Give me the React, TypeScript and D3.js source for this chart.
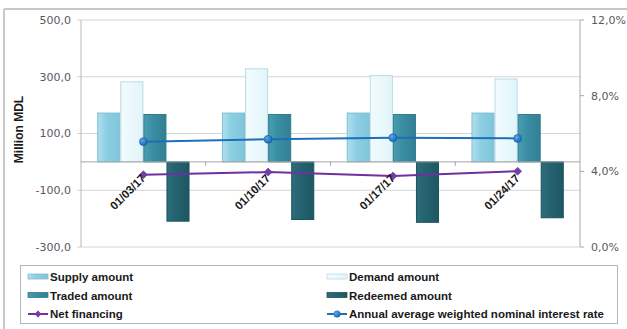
import React from "react";
import * as d3 from "d3";

const categories = ["01/03/17", "01/10/17", "01/17/17", "01/24/17"];
const supplyAmount = [172, 172, 172, 172];
const demandAmount = [282, 328, 304, 292];
const tradedAmount = [167, 167, 167, 167];
const redeemedAmount = [-209, -203, -213, -197];
const netFinancing = [-45, -36, -50, -33];
const interestRate = [5.57, 5.69, 5.78, 5.74];
const leftTicks = [500, 300, 100, -100, -300];
const rightTicks = [0, 4, 8, 12];

const seriesNames = ["Supply amount", "Demand amount", "Traded amount", "Redeemed amount"];
const barSeries = [supplyAmount, demandAmount, tradedAmount, redeemedAmount];
const barFill = ["url(#gSupply)", "url(#gDemand)", "url(#gTraded)", "url(#gRedeemed)"];
const barStroke = ["#7fbfd2", "#b9dbe4", "#2f7d91", "#1c5360"];

const W = 627, H = 329;
const L = 81, R = 580, T = 20, B = 247;

export default function App() {
  const x = d3.scaleBand<string>().domain(categories).range([L, R]).padding(0);
  const bw = x.bandwidth();
  const xi = d3.scaleBand<string>().domain(seriesNames).range([bw * 0.13, bw * 0.87]).padding(0);
  const y = d3.scaleLinear().domain([-300, 500]).range([B, T]);
  const y2 = d3.scaleLinear().domain([0, 12]).range([B, T]);
  const cx = (c: string) => (x(c) as number) + bw / 2;

  const rateLine = d3.line<number>().x((_, i) => cx(categories[i])).y((d) => y2(d));
  const netLine = d3.line<number>().x((_, i) => cx(categories[i])).y((d) => y(d));
  const fmt = (v: number) => v.toFixed(1).replace(".", ",");
  const axisFont = "DejaVu Sans, Verdana, sans-serif";
  const boldFont = "Liberation Sans, Arial, sans-serif";

  const legendItems = [
    { name: "Supply amount", kind: "bar", i: 0, col: 0, row: 0 },
    { name: "Demand amount", kind: "bar", i: 1, col: 1, row: 0 },
    { name: "Traded amount", kind: "bar", i: 2, col: 0, row: 1 },
    { name: "Redeemed amount", kind: "bar", i: 3, col: 1, row: 1 },
    { name: "Net financing", kind: "net", i: 0, col: 0, row: 2 },
    { name: "Annual average weighted nominal interest rate", kind: "rate", i: 0, col: 1, row: 2 },
  ];
  const colX = [28, 327];
  const rowY = [277, 295.5, 314];

  const diamond = (px: number, py: number, s: number) =>
    `M${px},${py - s}L${px + s},${py}L${px},${py + s}L${px - s},${py}Z`;

  return (
    <svg width={W} height={H} style={{ position: "absolute", left: 0, top: 0, background: "#fff" }}>
      <defs>
        <linearGradient id="gSupply" x1="0" x2="1" y1="0" y2="0">
          <stop offset="0" stopColor="#b0e0ee" />
          <stop offset="0.4" stopColor="#8ccfe3" />
          <stop offset="1" stopColor="#80c5da" />
        </linearGradient>
        <linearGradient id="gDemand" x1="0" x2="1" y1="0" y2="0">
          <stop offset="0" stopColor="#f2fbfd" />
          <stop offset="1" stopColor="#e2f5fa" />
        </linearGradient>
        <linearGradient id="gTraded" x1="0" x2="1" y1="0" y2="0">
          <stop offset="0" stopColor="#4a9db1" />
          <stop offset="0.4" stopColor="#3a8ea3" />
          <stop offset="1" stopColor="#337f93" />
        </linearGradient>
        <linearGradient id="gRedeemed" x1="0" x2="1" y1="0" y2="0">
          <stop offset="0" stopColor="#2d6d7b" />
          <stop offset="0.4" stopColor="#25626f" />
          <stop offset="1" stopColor="#1f5764" />
        </linearGradient>
        <radialGradient id="gDot" cx="0.35" cy="0.35" r="0.7">
          <stop offset="0" stopColor="#5aa7e6" />
          <stop offset="1" stopColor="#1565b0" />
        </radialGradient>
      </defs>

      {/* outer frame */}
      <line x1={4} y1={9} x2={W} y2={9} stroke="#c8c8c8" strokeWidth={2} />
      <line x1={4} y1={9} x2={4} y2={H} stroke="#c8c8c8" strokeWidth={2} />

      {/* gridlines */}
      {leftTicks.map((t) => (
        <line key={"g" + t} x1={L - 4} x2={R} y1={y(t)} y2={y(t)} stroke="#d4d4d4" strokeWidth={1} />
      ))}
      {rightTicks.map((t) => (
        <line key={"rt" + t} x1={R} x2={R + 4} y1={y2(t)} y2={y2(t)} stroke="#a8a8a8" strokeWidth={1} />
      ))}
      <line x1={L} x2={L} y1={T} y2={B} stroke="#b8b8b8" />
      <line x1={R} x2={R} y1={T} y2={B} stroke="#a8a8a8" />

      {/* bars */}
      {categories.map((c, ci) =>
        barSeries.map((s, si) => {
          const v = s[ci];
          const x0 = (x(c) as number) + (xi(seriesNames[si]) as number);
          const y0 = Math.min(y(v), y(0));
          const h = Math.abs(y(v) - y(0));
          return (
            <rect key={c + si} x={x0 + 0.5} y={y0} width={xi.bandwidth() - 1} height={h}
              fill={barFill[si]} stroke={barStroke[si]} strokeWidth={1} />
          );
        })
      )}

      {/* zero line with category ticks */}
      <line x1={L} x2={R} y1={y(0)} y2={y(0)} stroke="#a6a6a6" />
      {categories.slice(1).map((c) => (
        <line key={"ct" + c} x1={x(c) as number} x2={x(c) as number} y1={y(0)} y2={y(0) + 4} stroke="#a6a6a6" />
      ))}

      {/* lines */}
      <path d={netLine(netFinancing) as string} fill="none" stroke="#7030a0" strokeWidth={2} />
      {netFinancing.map((v, i) => (
        <path key={"nd" + i} d={diamond(cx(categories[i]), y(v), 4)} fill="#7a3aa8" stroke="#5b2382" strokeWidth={0.5} />
      ))}
      <path d={rateLine(interestRate) as string} fill="none" stroke="#1c6fb8" strokeWidth={2} />
      {interestRate.map((v, i) => (
        <circle key={"rd" + i} cx={cx(categories[i])} cy={y2(v)} r={4} fill="url(#gDot)" stroke="#125a9c" strokeWidth={0.5} />
      ))}

      {/* left axis labels */}
      {leftTicks.map((t) => (
        <text key={"lt" + t} x={71} y={y(t)} dy="0.35em" textAnchor="end" fontFamily={axisFont}
          fontSize={11} fill="#595959">{fmt(t)}</text>
      ))}
      {/* right axis labels */}
      {rightTicks.map((t) => (
        <text key={"rl" + t} x={591} y={y2(t)} dy="0.35em" textAnchor="start" fontFamily={axisFont}
          fontSize={11} fill="#595959">{fmt(t) + "%"}</text>
      ))}
      <text transform={`translate(23,${(T + B) / 2 - 4}) rotate(-90)`} textAnchor="middle"
        fontFamily={boldFont} fontWeight="bold" fontSize={12} fill="#1a1a1a">Million MDL</text>

      {/* category labels */}
      {categories.map((c) => (
        <text key={"cl" + c} transform={`translate(${cx(c) + 3},${y(0) + 17}) rotate(-45)`}
          textAnchor="end" fontFamily={boldFont} fontWeight="bold" fontSize={11.5} fill="#1a1a1a">{c}</text>
      ))}

      {/* legend */}
      <rect x={20.5} y={265.5} width={597} height={58} fill="#fff" stroke="#a9b9c6" strokeWidth={1} />
      {legendItems.map((it) => {
        const lx = colX[it.col];
        const ly = rowY[it.row];
        return (
          <g key={it.name}>
            {it.kind === "bar" && (
              <rect x={lx} y={ly - 3} width={20} height={5} fill={barFill[it.i]} stroke={barStroke[it.i]} strokeWidth={0.8} />
            )}
            {it.kind === "net" && (
              <g>
                <line x1={lx} x2={lx + 20} y1={ly} y2={ly} stroke="#7030a0" strokeWidth={2} />
                <path d={diamond(lx + 10, ly, 3.5)} fill="#7a3aa8" />
              </g>
            )}
            {it.kind === "rate" && (
              <g>
                <line x1={lx} x2={lx + 20} y1={ly} y2={ly} stroke="#1c6fb8" strokeWidth={2} />
                <circle cx={lx + 10} cy={ly} r={3.5} fill="url(#gDot)" />
              </g>
            )}
            <text x={lx + 22} y={ly} dy="0.35em" fontFamily={boldFont} fontWeight="bold" fontSize={11.5}
              fill="#1a1a1a">{it.name}</text>
          </g>
        );
      })}
    </svg>
  );
}
